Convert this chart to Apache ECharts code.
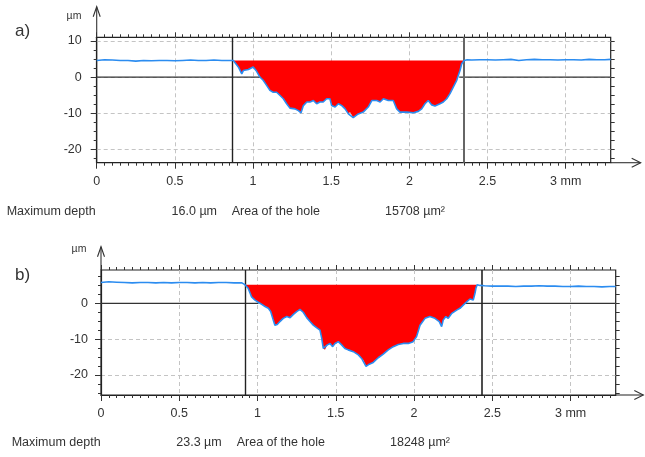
<!DOCTYPE html>
<html><head><meta charset="utf-8">
<script src="https://cdn.jsdelivr.net/npm/echarts@6/dist/echarts.min.js"></script>
<style>html,body{margin:0;padding:0;background:#fff}#c{width:645px;height:457px}</style>
</head><body><div id="c"></div>
<script>
// ---------- data ----------
const xTickValues = [0, 0.5, 1, 1.5, 2, 2.5, 3];
const xTickLabels = ['0', '0.5', '1', '1.5', '2', '2.5', '3 mm'];
const yTickValuesA = [-20, -10, 0, 10];
const yTickValuesB = [-20, -10, 0];
const xMax = 3.288;
const yRangeA = [-23.7, 11.0];
const yRangeB = [-25.6, 9.3];

// chart a)
const refLevelA = 4.6;
const holeEdgesA = [0.867, 2.345];
const zeroCrossA = [1.045, 2.319];
const leftXA = [0, 0.05, 0.1, 0.15, 0.2, 0.25, 0.3, 0.35, 0.4, 0.45, 0.5, 0.55, 0.6, 0.65, 0.7, 0.75, 0.8, 0.85];
const leftYA = [4.6, 4.8, 4.7, 4.6, 4.6, 4.4, 4.6, 4.5, 4.6, 4.6, 4.5, 4.6, 4.7, 4.6, 4.6, 4.7, 4.6, 4.6];
const holeXA = [0.874, 0.906, 0.928, 0.938, 0.970, 1.001, 1.023, 1.044, 1.065, 1.087, 1.108, 1.129, 1.151, 1.173, 1.194, 1.215, 1.236, 1.268, 1.290, 1.307, 1.322, 1.344, 1.365, 1.386, 1.407, 1.428, 1.449, 1.471, 1.492, 1.503, 1.525, 1.546, 1.568, 1.589, 1.610, 1.620, 1.641, 1.673, 1.705, 1.737, 1.760, 1.791, 1.813, 1.834, 1.865, 1.897, 1.919, 1.940, 1.983, 2.026, 2.057, 2.079, 2.100, 2.121, 2.143, 2.164, 2.196, 2.217, 2.239, 2.260, 2.281, 2.303, 2.313, 2.324, 2.335, 2.351];
const holeYA = [4.6, 2.8, 0.9, 1.8, 2.1, 2.8, 1.6, 0, -0.9, -2.3, -3.7, -4.2, -4.2, -5.1, -6.0, -7.4, -8.6, -8.8, -9.3, -9.9, -7.9, -6.9, -6.9, -6.5, -7.4, -6.9, -6.9, -6.0, -6.0, -7.9, -8.3, -7.4, -7.9, -8.8, -10.2, -9.7, -11.2, -10.2, -9.7, -8.3, -6.5, -6.5, -6.9, -6.0, -6.5, -6.5, -8.8, -9.7, -9.7, -9.9, -9.5, -8.8, -7.4, -6.5, -7.7, -8.0, -7.4, -6.9, -6.0, -4.6, -2.8, -0.9, 0.4, 1.8, 3.7, 4.6];
const rightXA = [2.37, 2.4, 2.45, 2.5, 2.55, 2.6, 2.65, 2.7, 2.75, 2.8, 2.85, 2.9, 2.95, 3.0, 3.05, 3.1, 3.15, 3.2, 3.25, 3.288];
const rightYA = [4.8, 4.7, 4.8, 4.8, 4.7, 4.8, 4.9, 4.6, 4.8, 4.9, 4.8, 4.8, 4.7, 4.8, 4.8, 4.7, 4.9, 4.8, 4.8, 4.9];

// chart b)
const refLevelB = 5.2;
const holeEdgesB = [0.924, 2.431];
const zeroCrossB = [1.005, 2.327];
const leftXB = [0, 0.05, 0.1, 0.15, 0.2, 0.25, 0.3, 0.35, 0.4, 0.45, 0.5, 0.55, 0.6, 0.65, 0.7, 0.75, 0.8, 0.85, 0.9];
const leftYB = [5.8, 6.0, 5.9, 5.8, 5.7, 5.8, 5.8, 5.7, 5.8, 5.7, 5.8, 5.8, 5.7, 5.8, 5.7, 5.8, 5.8, 5.7, 5.7];
const holeXB = [0.919, 0.940, 0.962, 0.984, 1.005, 1.027, 1.048, 1.069, 1.084, 1.097, 1.111, 1.126, 1.143, 1.164, 1.187, 1.208, 1.229, 1.250, 1.271, 1.292, 1.314, 1.335, 1.356, 1.377, 1.399, 1.410, 1.420, 1.431, 1.446, 1.463, 1.480, 1.495, 1.516, 1.537, 1.558, 1.579, 1.612, 1.644, 1.665, 1.676, 1.693, 1.714, 1.739, 1.771, 1.803, 1.835, 1.867, 1.899, 1.931, 1.963, 1.994, 2.016, 2.038, 2.070, 2.101, 2.133, 2.161, 2.176, 2.186, 2.203, 2.218, 2.241, 2.272, 2.293, 2.314, 2.336, 2.357, 2.378, 2.389, 2.395, 2.403];
const holeYB = [5.2, 4.2, 1.8, 0.9, 0.3, -0.3, -0.9, -1.4, -2.3, -4.2, -6.1, -5.9, -5.1, -4.2, -3.7, -4.0, -3.1, -2.3, -1.7, -2.5, -4.0, -5.1, -6.1, -6.8, -7.5, -9.8, -12.6, -13.0, -11.6, -11.2, -12.1, -11.2, -10.7, -11.6, -12.6, -13.0, -13.5, -14.4, -15.4, -15.8, -17.6, -17.0, -16.5, -15.2, -14.2, -13.0, -12.1, -11.5, -11.2, -11.2, -10.7, -9.3, -6.1, -4.2, -3.7, -4.2, -5.1, -6.5, -4.7, -3.7, -4.2, -2.8, -1.9, -1.4, -0.5, 0.4, 1.2, 0.9, 2.8, 4.2, 5.2];
const rightXB = [2.42, 2.45, 2.5, 2.55, 2.6, 2.65, 2.7, 2.75, 2.8, 2.85, 2.9, 2.95, 3.0, 3.05, 3.1, 3.15, 3.2, 3.25, 3.288];
const rightYB = [5.0, 4.9, 4.8, 4.8, 4.8, 4.7, 4.8, 4.8, 4.9, 4.8, 4.8, 4.7, 4.7, 4.8, 4.7, 4.7, 4.6, 4.7, 4.7];

const infoA = ['Maximum depth', '16.0 µm', 'Area of the hole', '15708 µm²'];
const infoB = ['Maximum depth', '23.3 µm', 'Area of the hole', '18248 µm²'];

// ---------- layout / style ----------
const FONT = '"Liberation Sans", Arial, sans-serif';
const TXT = '#333';
const layoutA = { left: 96.7, top: 37.3, width: 514, height: 125.4 };
const layoutB = { left: 101, top: 270, width: 514.7, height: 125 };

function ticksBetween(a, b, step) {
  const r = [];
  for (let k = 0; a + k * step <= b + 1e-9; k++) r.push(Math.round((a + k * step) * 1000) / 1000);
  return r;
}
const xMinorTicks = ticksBetween(0, 3.25, 0.05);
const yMinorTicksA = ticksBetween(-22.5, 10, 2.5);
const yMinorTicksB = ticksBetween(-25, 7.5, 2.5);

const dashed = { show: true, lineStyle: { color: '#c4c4c4', type: [4, 3], width: 1 } };
const hiddenLine = { show: false, onZero: false };

function makeXAxes(g, labelMargin) {
  const base = { gridIndex: g, type: 'value', min: 0, max: xMax, axisLine: hiddenLine, axisLabel: { show: false }, splitLine: { show: false } };
  const tk = (vals, len) => ({ show: true, customValues: vals, length: len, lineStyle: { color: '#333', width: 1 } });
  return [
    Object.assign({}, base, {
      position: 'bottom', splitNumber: 6,
      axisLine: { show: true, onZero: false, lineStyle: { color: '#222', width: 1.2 } },
      axisTick: tk(xTickValues, 6),
      axisLabel: { show: true, customValues: xTickValues, margin: labelMargin, color: TXT, fontSize: 12.5, fontFamily: FONT,
        formatter: v => { const i = xTickValues.indexOf(v); return i >= 0 ? xTickLabels[i] : ''; } },
      splitLine: dashed
    }),
    Object.assign({}, base, { position: 'bottom', axisTick: tk(xMinorTicks, 3) }),
    Object.assign({}, base, { position: 'top', axisTick: tk(xTickValues, 5) }),
    Object.assign({}, base, { position: 'top', axisTick: tk(xMinorTicks, 3) })
  ];
}
function makeYAxes(g, range, major, minor, labelMargin) {
  const base = { gridIndex: g, type: 'value', min: range[0], max: range[1], axisLine: hiddenLine, axisLabel: { show: false }, splitLine: { show: false } };
  const tk = (vals, len) => ({ show: true, customValues: vals, length: len, lineStyle: { color: '#333', width: 1 } });
  return [
    Object.assign({}, base, {
      position: 'left', splitNumber: 3,
      axisLine: { show: true, onZero: false, lineStyle: { color: '#222', width: 1.2 } },
      axisTick: tk(major, 6),
      axisLabel: { show: true, customValues: major, margin: labelMargin, color: TXT, fontSize: 12.5, fontFamily: FONT },
      splitLine: dashed
    }),
    Object.assign({}, base, { position: 'left', axisTick: tk(minor, 3) }),
    Object.assign({}, base, { position: 'right', axisTick: tk(minor, 4) })
  ];
}

function makeSeries(g, d) {
  const xi = 4 * g, yi = 3 * g;
  const full = [];
  d.leftX.forEach((x, i) => full.push([x, d.leftY[i]]));
  d.holeX.forEach((x, i) => full.push([x, d.holeY[i]]));
  d.rightX.forEach((x, i) => full.push([x, d.rightY[i]]));
  const holePts = d.holeX.map((x, i) => [x, d.holeY[i]]);
  return [
    {
      type: 'custom', xAxisIndex: xi, yAxisIndex: yi, z: 2, silent: true,
      data: holePts, encode: { x: 0, y: 1 },
      renderItem: function (params, api) {
        if (params.dataIndex !== 0) return null;
        const pts = holePts.map(p => api.coord(p));
        pts.push(api.coord([d.holeX[d.holeX.length - 1], d.ref]));
        pts.push(api.coord([d.holeX[0], d.ref]));
        return { type: 'polygon', shape: { points: pts }, style: { fill: '#ff0000', stroke: null } };
      }
    },
    {
      type: 'line', xAxisIndex: xi, yAxisIndex: yi, z: 5, data: full, symbol: 'none', silent: true,
      lineStyle: { color: '#2b8cf0', width: 1.6 },
      markLine: {
        silent: true, symbol: ['none', 'none'], label: { show: false },
        lineStyle: { color: '#222', type: 'solid', width: 1.4 },
        data: [
          { xAxis: d.edges[0] },
          { xAxis: d.edges[1], lineStyle: d.rightEdgeStyle }
        ]
      }
    },
    {
      type: 'line', xAxisIndex: xi, yAxisIndex: yi, z: 4, symbol: 'none', silent: true,
      data: [[0, 0], [d.zero[0], 0]], lineStyle: { color: '#333', width: 1.2 }
    },
    {
      type: 'line', xAxisIndex: xi, yAxisIndex: yi, z: 4, symbol: 'none', silent: true,
      data: [[d.zero[1], 0], [xMax, 0]], lineStyle: { color: '#333', width: 1.2 }
    }
  ];
}

function txt(x, y, text, size, align) {
  return { type: 'text', x: x, y: y, silent: true,
    style: { text: text, fill: TXT, fontSize: size, fontFamily: FONT, align: align || 'left', verticalAlign: 'middle' } };
}
function arrows(L, xLen, yLen) {
  const r = L.left + L.width, b = L.top + L.height;
  const st = { stroke: '#333', lineWidth: 1.1, fill: null };
  return [
    { type: 'polyline', silent: true, shape: { points: [[r, b], [r + xLen, b]] }, style: st },
    { type: 'polyline', silent: true, shape: { points: [[r + xLen - 9, b - 4.5], [r + xLen, b], [r + xLen - 9, b + 4.5]] }, style: st },
    { type: 'polyline', silent: true, shape: { points: [[L.left, L.top], [L.left, L.top - yLen]] }, style: st },
    { type: 'polyline', silent: true, shape: { points: [[L.left - 3.5, L.top - yLen + 10], [L.left, L.top - yLen], [L.left + 3.5, L.top - yLen + 10]] }, style: st }
  ];
}

const chart = echarts.init(document.getElementById('c'), null, { renderer: 'canvas' });
const gridStyle = { show: true, borderColor: '#222', borderWidth: 1.2, backgroundColor: 'transparent', containLabel: false };

chart.setOption({
  animation: false,
  backgroundColor: '#fff',
  grid: [
    Object.assign({}, gridStyle, { left: layoutA.left, top: layoutA.top, width: layoutA.width, height: layoutA.height }),
    Object.assign({}, gridStyle, { left: layoutB.left, top: layoutB.top, width: layoutB.width, height: layoutB.height })
  ],
  xAxis: makeXAxes(0, 12).concat(makeXAxes(1, 12)),
  yAxis: makeYAxes(0, yRangeA, yTickValuesA, yMinorTicksA, 15).concat(makeYAxes(1, yRangeB, yTickValuesB, yMinorTicksB, 13)),
  series: makeSeries(0, { leftX: leftXA, leftY: leftYA, holeX: holeXA, holeY: holeYA, rightX: rightXA, rightY: rightYA,
      ref: refLevelA, edges: holeEdgesA, zero: zeroCrossA, rightEdgeStyle: { color: '#666', width: 2 } })
    .concat(makeSeries(1, { leftX: leftXB, leftY: leftYB, holeX: holeXB, holeY: holeYB, rightX: rightXB, rightY: rightYB,
      ref: refLevelB, edges: holeEdgesB, zero: zeroCrossB, rightEdgeStyle: { color: '#222', width: 1.6 } })),
  graphic: [
    txt(15, 31, 'a)', 17),
    txt(74, 16.5, 'µm', 10.5, 'center'),
    txt(6.7, 211.7, infoA[0], 12.5),
    txt(217, 211.7, infoA[1], 12.5, 'right'),
    txt(231.7, 211.7, infoA[2], 12.5),
    txt(385, 211.7, infoA[3], 12.5),
    txt(15, 275, 'b)', 17),
    txt(79, 249, 'µm', 10.5, 'center'),
    txt(11.7, 443, infoB[0], 12.5),
    txt(221.7, 443, infoB[1], 12.5, 'right'),
    txt(236.7, 443, infoB[2], 12.5),
    txt(390, 443, infoB[3], 12.5)
  ].concat(arrows(layoutA, 30, 30.6), arrows(layoutB, 27.6, 23.3))
});
</script></body></html>
